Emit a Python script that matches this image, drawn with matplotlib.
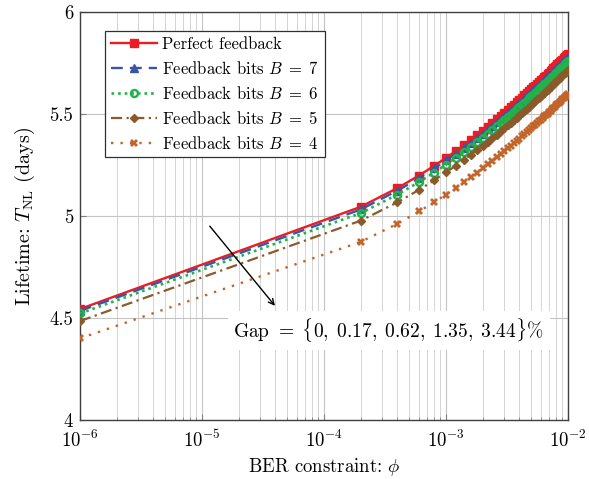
import matplotlib
matplotlib.use('Agg')
import matplotlib.pyplot as plt
from matplotlib.ticker import LogLocator, FixedLocator, FixedFormatter

plt.rcParams['font.family'] = 'cmr10'
plt.rcParams['mathtext.fontset'] = 'cm'
plt.rcParams['axes.formatter.use_mathtext'] = True

# BER constraint phi
ber = [1e-6,
       2e-4, 4e-4, 6e-4, 8e-4, 1.0e-3, 1.2e-3, 1.4e-3, 1.6e-3, 1.8e-3, 2.0e-3,
       2.2e-3, 2.4e-3, 2.6e-3, 2.8e-3, 3.0e-3, 3.2e-3, 3.4e-3, 3.6e-3, 3.8e-3, 4.0e-3,
       4.2e-3, 4.4e-3, 4.6e-3, 4.8e-3, 5.0e-3, 5.2e-3, 5.4e-3, 5.6e-3, 5.8e-3, 6.0e-3,
       6.2e-3, 6.4e-3, 6.6e-3, 6.8e-3, 7.0e-3, 7.2e-3, 7.4e-3, 7.6e-3, 7.8e-3, 8.0e-3,
       8.2e-3, 8.4e-3, 8.6e-3, 8.8e-3, 9.0e-3, 9.2e-3, 9.4e-3, 9.6e-3, 9.8e-3, 1.0e-2]

# lifetime (days)
perfect = [4.544,
           5.045, 5.137, 5.198, 5.246, 5.285, 5.318, 5.347, 5.373, 5.397, 5.418,
           5.438, 5.456, 5.473, 5.489, 5.504, 5.518, 5.532, 5.545, 5.557, 5.569,
           5.580, 5.591, 5.601, 5.611, 5.621, 5.630, 5.639, 5.648, 5.657, 5.665,
           5.673, 5.681, 5.688, 5.696, 5.703, 5.710, 5.717, 5.724, 5.731, 5.737,
           5.743, 5.750, 5.756, 5.762, 5.767, 5.773, 5.779, 5.784, 5.790, 5.795]
bits7 = [4.535,
         5.032, 5.124, 5.185, 5.233, 5.272, 5.305, 5.334, 5.360, 5.383, 5.404,
         5.424, 5.442, 5.459, 5.475, 5.490, 5.504, 5.518, 5.531, 5.543, 5.555,
         5.566, 5.577, 5.587, 5.597, 5.607, 5.616, 5.625, 5.634, 5.643, 5.651,
         5.659, 5.667, 5.674, 5.682, 5.689, 5.696, 5.703, 5.710, 5.716, 5.723,
         5.729, 5.735, 5.741, 5.747, 5.753, 5.759, 5.764, 5.770, 5.775, 5.781]
bits6 = [4.522,
         5.014, 5.105, 5.166, 5.213, 5.252, 5.285, 5.314, 5.340, 5.363, 5.384,
         5.404, 5.422, 5.439, 5.455, 5.470, 5.484, 5.497, 5.510, 5.522, 5.534,
         5.545, 5.556, 5.566, 5.576, 5.586, 5.595, 5.604, 5.613, 5.622, 5.630,
         5.638, 5.646, 5.653, 5.661, 5.668, 5.675, 5.682, 5.688, 5.695, 5.701,
         5.708, 5.714, 5.720, 5.726, 5.732, 5.737, 5.743, 5.748, 5.754, 5.759]
bits5 = [4.485,
         4.977, 5.067, 5.128, 5.175, 5.214, 5.246, 5.275, 5.301, 5.324, 5.345,
         5.364, 5.382, 5.399, 5.415, 5.430, 5.444, 5.457, 5.470, 5.482, 5.493,
         5.505, 5.515, 5.525, 5.535, 5.545, 5.554, 5.563, 5.572, 5.580, 5.588,
         5.596, 5.604, 5.612, 5.619, 5.626, 5.633, 5.640, 5.647, 5.653, 5.660,
         5.666, 5.672, 5.678, 5.684, 5.690, 5.695, 5.701, 5.706, 5.712, 5.717]
bits4 = [4.400,
         4.873, 4.962, 5.022, 5.068, 5.105, 5.137, 5.165, 5.190, 5.213, 5.234,
         5.253, 5.270, 5.287, 5.302, 5.317, 5.331, 5.344, 5.356, 5.368, 5.379,
         5.390, 5.401, 5.411, 5.420, 5.430, 5.439, 5.448, 5.456, 5.464, 5.472,
         5.480, 5.488, 5.495, 5.502, 5.509, 5.516, 5.523, 5.529, 5.536, 5.542,
         5.548, 5.554, 5.560, 5.566, 5.571, 5.577, 5.582, 5.588, 5.593, 5.598]

labels = ['Perfect feedback', r'Feedback bits $B\;=\;7$', r'Feedback bits $B\;=\;6$',
          r'Feedback bits $B\;=\;5$', r'Feedback bits $B\;=\;4$']
yticks = [4, 4.5, 5, 5.5, 6]
ytick_labels = ['4', '4.5', '5', '5.5', '6']
gap_text = r'Gap $=\;\{0,\;0.17,\;0.62,\;1.35,\;3.44\}\%$'

fig = plt.figure(figsize=(5.89, 4.79), dpi=100)
ax = fig.add_axes([0.1358, 0.1232, 0.8285, 0.8518])

# line styles, pgfplots-ish
ax.plot(ber, perfect, color='#ED1C24', ls='-', lw=1.7, marker='s', ms=5.5,
        label=labels[0], zorder=5)
ax.plot(ber, bits7, color='#3B54A4', ls=(0, (5, 3)), lw=1.7, marker='^', ms=6,
        label=labels[1], zorder=6)
ax.plot(ber, bits6, color='#22B24C', ls=(0, (1, 1.5)), lw=1.9, marker='o', ms=5,
        mfc='none', mew=1.8, label=labels[2], zorder=7)
ax.plot(ber, bits5, color='#8B5A2B', ls=(0, (5, 2, 1, 2)), lw=1.6, marker='D', ms=4.3,
        label=labels[3], zorder=8)
ax.plot(ber, bits4, color='#C1652B', ls=(0, (1, 3)), lw=1.7, marker='X', ms=5.5,
        mew=0, label=labels[4], zorder=9)

ax.set_xscale('log')
ax.set_xlim(1e-6, 1e-2)
ax.set_ylim(4, 6)
ax.xaxis.set_major_locator(LogLocator(base=10, numticks=10))
ax.xaxis.set_minor_locator(LogLocator(base=10, subs=range(2, 10), numticks=20))
ax.yaxis.set_major_locator(FixedLocator(yticks))
ax.yaxis.set_major_formatter(FixedFormatter(ytick_labels))

ax.grid(True, which='major', color='#c4c4c4', lw=0.8)
ax.grid(True, which='minor', axis='x', color='#d4d4d4', lw=0.7)
ax.set_axisbelow(True)
for s in ax.spines.values():
    s.set_color('#404040')
    s.set_linewidth(1.0)
ax.tick_params(which='both', direction='in', color='#808080', labelsize=13.5)
ax.tick_params(which='major', length=4)
ax.tick_params(axis='x', which='major', pad=7)
ax.tick_params(axis='y', which='major', pad=5)
ax.tick_params(which='minor', length=2.5)

ax.set_xlabel(r'BER constraint: $\phi$', fontsize=13.5, labelpad=4)
ax.set_ylabel(r'Lifetime: $T_{\mathrm{NL}}$ (days)', fontsize=14.5, labelpad=9)

leg = ax.legend(loc='upper left', bbox_to_anchor=(0.051, 0.953), borderaxespad=0,
                fontsize=12, handlelength=2.8, handletextpad=0.3, fancybox=False,
                framealpha=1, edgecolor='#303030', borderpad=0.35, labelspacing=0.47)
leg.get_frame().set_linewidth(0.9)

ax.annotate('', xy=(4.1e-5, 4.549), xytext=(1.12e-5, 4.961),
            arrowprops=dict(arrowstyle='->', color='black', lw=1.0), zorder=10)
ax.text(3.4e-4, 4.44, gap_text, fontsize=14, ha='center', va='center', zorder=10,
        bbox=dict(facecolor='white', edgecolor='none', pad=4))

fig.savefig('out.png', dpi=100)
